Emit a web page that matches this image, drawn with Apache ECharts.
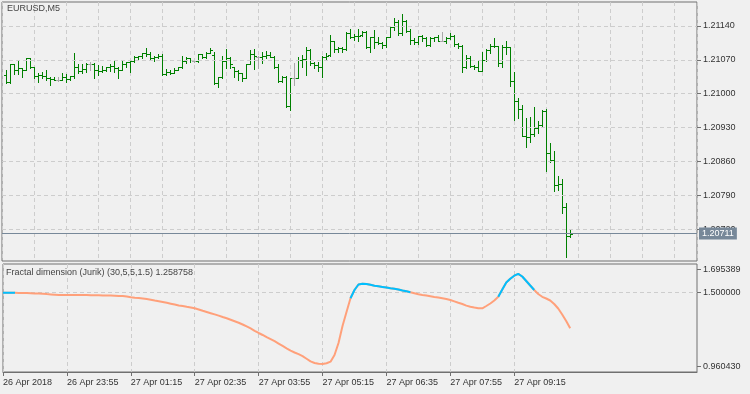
<!DOCTYPE html>
<html><head><meta charset="utf-8">
<script src="https://cdn.jsdelivr.net/npm/echarts@6/dist/echarts.min.js"></script>
<style>html,body{margin:0;padding:0;background:#f0f0f0}#c{width:750px;height:394px}</style>
</head><body><div id="c"></div>
<script>
const symbolTitle = 'EURUSD,M5';
const indicatorTitle = 'Fractal dimension (Jurik) (30,5,5,1.5) 1.258758';
const timeTickIndex = [0,16,32,48,64,80,96,112,128];
const timeTickLabels = ['26 Apr 2018','26 Apr 23:55','27 Apr 01:15','27 Apr 02:35','27 Apr 03:55','27 Apr 05:15','27 Apr 06:35','27 Apr 07:55','27 Apr 09:15'];
const priceTicks = [1.2072,1.2079,1.2086,1.2093,1.2100,1.2107,1.2114];
const priceMin = 1.206542, priceMax = 1.211896;
const lastPrice = 1.20711;
const indicatorMin = 0.960430, indicatorMax = 1.695389, indicatorLevel = 1.5;
const indicatorTickLabels = ['1.695389','1.500000','0.960430'];
const firstBarIndex = 1;

const opens = [
1.21039,1.21024,1.21062,1.21049,1.21053,1.21049,1.21074,1.21055,1.21037,1.21039,
1.21037,1.21033,1.21031,1.21029,1.21029,1.21035,1.21031,1.21036,1.21055,1.21047,
1.21051,1.21061,1.21061,1.21049,1.21047,1.21049,1.21055,1.21057,1.21053,1.21049,
1.21062,1.21066,1.21068,1.21076,1.21078,1.21084,1.21082,1.21074,1.21076,1.21078,
1.21041,1.21045,1.21043,1.21049,1.21055,1.21068,1.21074,1.21068,1.21068,1.21082,
1.21076,1.21084,1.21080,1.21022,1.21035,1.21068,1.21074,1.21055,1.21047,1.21043,
1.21033,1.21061,1.21082,1.21076,1.21076,1.21078,1.21080,1.21076,1.21055,1.21026,
1.21035,1.20975,1.21033,1.21033,1.21070,1.21072,1.21091,1.21064,1.21059,1.21055,
1.21076,1.21080,1.21109,1.21093,1.21095,1.21092,1.21126,1.21117,1.21119,1.21121,
1.21128,1.21097,1.21117,1.21107,1.21104,1.21101,1.21117,1.21138,1.21148,1.21126,
1.21151,1.21130,1.21111,1.21107,1.21120,1.21115,1.21101,1.21115,1.21117,1.21109,
1.21109,1.21115,1.21120,1.21103,1.21099,1.21055,1.21074,1.21057,1.21055,1.21047,
1.21070,1.21091,1.21099,1.21098,1.21064,1.21097,1.21096,1.21026,1.20985,1.20968,
1.20913,1.20910,1.20917,1.20929,1.20935,1.20964,1.20878,1.20864,1.20812,1.20813,
1.20765,1.20706];
const highs = [
1.21049,1.21062,1.21062,1.21068,1.21053,1.21074,1.21074,1.21055,1.21043,1.21045,
1.21049,1.21035,1.21035,1.21034,1.21043,1.21041,1.21037,1.21085,1.21062,1.21062,
1.21064,1.21066,1.21064,1.21059,1.21058,1.21056,1.21062,1.21070,1.21056,1.21068,
1.21066,1.21070,1.21077,1.21079,1.21085,1.21095,1.21086,1.21077,1.21082,1.21082,
1.21051,1.21049,1.21053,1.21056,1.21079,1.21075,1.21074,1.21070,1.21082,1.21082,
1.21087,1.21094,1.21086,1.21035,1.21078,1.21093,1.21075,1.21056,1.21049,1.21043,
1.21061,1.21091,1.21093,1.21077,1.21087,1.21088,1.21086,1.21079,1.21061,1.21037,
1.21037,1.21033,1.21063,1.21075,1.21080,1.21097,1.21093,1.21066,1.21066,1.21077,
1.21084,1.21122,1.21110,1.21096,1.21096,1.21128,1.21134,1.21123,1.21134,1.21130,
1.21130,1.21118,1.21132,1.21117,1.21107,1.21117,1.21141,1.21156,1.21153,1.21164,
1.21153,1.21133,1.21115,1.21120,1.21121,1.21117,1.21117,1.21118,1.21122,1.21128,
1.21117,1.21125,1.21122,1.21104,1.21100,1.21080,1.21077,1.21059,1.21070,1.21087,
1.21092,1.21103,1.21115,1.21099,1.21101,1.21109,1.21097,1.21044,1.20991,1.20977,
1.20949,1.20951,1.20972,1.20944,1.20966,1.20968,1.20899,1.20882,1.20830,1.20823,
1.20774,1.20718];
const lows = [
1.21022,1.21022,1.21041,1.21041,1.21035,1.21049,1.21053,1.21033,1.21024,1.21033,
1.21028,1.21018,1.21028,1.21027,1.21028,1.21024,1.21029,1.21033,1.21043,1.21043,
1.21045,1.21049,1.21033,1.21039,1.21044,1.21047,1.21047,1.21045,1.21032,1.21049,
1.21056,1.21044,1.21065,1.21070,1.21073,1.21079,1.21071,1.21068,1.21073,1.21039,
1.21039,1.21040,1.21042,1.21048,1.21054,1.21064,1.21066,1.21066,1.21066,1.21073,
1.21073,1.21084,1.21020,1.21013,1.21033,1.21053,1.21053,1.21035,1.21028,1.21026,
1.21032,1.21061,1.21051,1.21053,1.21063,1.21073,1.21075,1.21054,1.21025,1.21025,
1.20973,1.20966,1.21017,1.21032,1.21056,1.21039,1.21059,1.21054,1.21046,1.21035,
1.21072,1.21077,1.21087,1.21086,1.21087,1.21091,1.21115,1.21111,1.21108,1.21120,
1.21095,1.21087,1.21095,1.21102,1.21095,1.21097,1.21117,1.21132,1.21122,1.21122,
1.21128,1.21102,1.21102,1.21102,1.21109,1.21099,1.21099,1.21109,1.21108,1.21108,
1.21104,1.21113,1.21099,1.21095,1.21044,1.21054,1.21056,1.21051,1.21046,1.21046,
1.21068,1.21085,1.21096,1.21057,1.21056,1.21082,1.21016,1.20946,1.20949,1.20913,
1.20889,1.20901,1.20913,1.20919,1.20931,1.20841,1.20859,1.20799,1.20801,1.20754,
1.20663,1.20704];
const closes = [
1.21024,1.21062,1.21049,1.21053,1.21049,1.21074,1.21055,1.21037,1.21039,1.21037,
1.21033,1.21031,1.21029,1.21029,1.21035,1.21031,1.21036,1.21055,1.21047,1.21051,
1.21061,1.21061,1.21049,1.21047,1.21049,1.21055,1.21057,1.21053,1.21049,1.21062,
1.21066,1.21068,1.21076,1.21078,1.21084,1.21082,1.21074,1.21076,1.21078,1.21041,
1.21045,1.21043,1.21049,1.21055,1.21068,1.21074,1.21070,1.21068,1.21082,1.21076,
1.21084,1.21091,1.21022,1.21035,1.21068,1.21074,1.21062,1.21047,1.21043,1.21033,
1.21061,1.21082,1.21078,1.21076,1.21078,1.21080,1.21076,1.21055,1.21026,1.21035,
1.20975,1.21033,1.21033,1.21070,1.21072,1.21091,1.21064,1.21059,1.21055,1.21076,
1.21078,1.21109,1.21093,1.21095,1.21092,1.21126,1.21117,1.21119,1.21120,1.21128,
1.21097,1.21117,1.21107,1.21105,1.21101,1.21117,1.21138,1.21148,1.21126,1.21151,
1.21130,1.21111,1.21107,1.21120,1.21115,1.21101,1.21115,1.21117,1.21109,1.21109,
1.21115,1.21120,1.21103,1.21099,1.21055,1.21074,1.21057,1.21055,1.21047,1.21070,
1.21091,1.21099,1.21098,1.21064,1.21097,1.21096,1.21026,1.20985,1.20968,1.20913,
1.20910,1.20917,1.20929,1.20935,1.20964,1.20878,1.20864,1.20812,1.20813,1.20765,
1.20706,1.20711];

const fdValues = [
1.5001,1.5001,1.5001,1.4994,1.4987,1.4980,1.4974,1.4967,1.4953,1.4940,
1.4926,1.4905,1.4885,1.4865,1.4844,1.4844,1.4844,1.4843,1.4842,1.4841,
1.4840,1.4837,1.4830,1.4828,1.4824,1.4817,1.4810,1.4803,1.4796,1.4783,
1.4776,1.4735,1.4688,1.4660,1.4633,1.4606,1.4572,1.4524,1.4470,1.4422,
1.4368,1.4313,1.4252,1.4191,1.4130,1.4089,1.4041,1.3994,1.3939,1.3858,
1.3769,1.3688,1.3606,1.3524,1.3443,1.3348,1.3259,1.3157,1.3055,1.2953,
1.2838,1.2702,1.2566,1.2409,1.2259,1.2123,1.1973,1.1837,1.1701,1.1538,
1.1375,1.1211,1.1055,1.0932,1.0817,1.0681,1.0504,1.0327,1.0218,1.0164,
1.0143,1.0198,1.0307,1.0761,1.1578,1.2735,1.3688,1.4620,1.5185,1.5559,
1.5607,1.5593,1.5538,1.5477,1.5436,1.5395,1.5348,1.5300,1.5266,1.5219,
1.5151,1.5096,1.5035,1.4967,1.4899,1.4844,1.4803,1.4762,1.4715,1.4674,
1.4626,1.4572,1.4504,1.4409,1.4313,1.4232,1.4123,1.4048,1.3994,1.3946,
1.3939,1.4096,1.4266,1.4470,1.4728,1.5219,1.5695,1.5947,1.6158,1.6287,
1.6104,1.5798,1.5491,1.5185,1.4913,1.4722,1.4606,1.4470,1.4232,1.3926,
1.3517,1.3075,1.258758];
const fdBlueSegments = [[0,3],[87,102],[124,133]];

const FONT = "'Liberation Sans',Arial,sans-serif";
const FS = 9;
const textColor = '#333333';
const gridLineColor = '#cdcdcd';
const borderColor = '#707070';
const upColor = '#008000';
const dojiColor = '#a9a9a9';
const priceLineColor = '#778899';
const barsPerPixel = 0.25;
const axisMaxBars = 695 * barsPerPixel;

const barData = opens.map((o, i) => [firstBarIndex + i, o, highs[i], lows[i], closes[i]]);
const closeData = closes.map((c, i) => [firstBarIndex + i, c]);
const fdData = fdValues.map((v, i) => [i, v]);
const fdBlueData = fdValues.map((v, i) => fdBlueSegments.some(s => i >= s[0] && i <= s[1]) ? [i, v] : [i, '-']);

const indUnitPerPx = (indicatorMax - indicatorMin) / 108;
const indTickValues = [indicatorMax - 5.7 * indUnitPerPx, indicatorLevel, indicatorMin + 5.7 * indUnitPerPx];

function renderBar(params, api) {
  const k = api.value(0), o = api.value(1), h = api.value(2), l = api.value(3), c = api.value(4);
  const pH = api.coord([k, h]), pL = api.coord([k, l]), pO = api.coord([k, o]), pC = api.coord([k, c]);
  const x = Math.round(pH[0]) + 0.5;
  const color = o === c ? dojiColor : upColor;
  const style = {stroke: color, lineWidth: 1, fill: null};
  const yo = Math.round(pO[1]) + 0.5, yc = Math.round(pC[1]) + 0.5;
  return {type: 'group', children: [
    {type: 'line', shape: {x1: x, y1: Math.round(pH[1]), x2: x, y2: Math.round(pL[1]) + 1}, style: style},
    {type: 'line', shape: {x1: x - 2.5, y1: yo, x2: x - 0.5, y2: yo}, style: style},
    {type: 'line', shape: {x1: x + 0.5, y1: yc, x2: x + 2.5, y2: yc}, style: style}
  ]};
}

const chart = echarts.init(document.getElementById('c'));
const axisFont = {fontFamily: FONT, fontSize: FS, color: textColor};
const dashed = {color: gridLineColor, type: [4, 3], width: 1};
chart.setOption({
  animation: false,
  backgroundColor: '#f0f0f0',
  title: [
    {text: symbolTitle, left: 7, top: 4, padding: 0, textStyle: {fontFamily: FONT, fontSize: FS, fontWeight: 'normal', color: '#444444'}},
    {text: indicatorTitle, left: 6, top: 268, padding: 0, textStyle: {fontFamily: FONT, fontSize: FS, fontWeight: 'normal', color: '#444444'}}
  ],
  grid: [
    {left: 2, top: 2, width: 695, height: 259, show: true, borderColor: borderColor, borderWidth: 1, backgroundColor: 'transparent'},
    {left: 2, top: 264, width: 695, height: 108, show: true, borderColor: borderColor, borderWidth: 1, backgroundColor: 'transparent'}
  ],
  xAxis: [
    {type: 'value', gridIndex: 0, min: 0, max: axisMaxBars, interval: 8,
     axisLine: {show: false, onZero: false}, axisTick: {show: false}, axisLabel: {show: false},
     splitLine: {show: true, lineStyle: dashed}},
    {type: 'value', gridIndex: 1, min: 0, max: axisMaxBars, interval: 8,
     axisLine: {show: true, onZero: false, lineStyle: {color: borderColor}},
     axisTick: {show: true, length: 4, customValues: timeTickIndex, lineStyle: {color: borderColor}},
     axisLabel: Object.assign({show: true, customValues: timeTickIndex, align: 'left', margin: 6, hideOverlap: false,
       formatter: v => timeTickLabels[timeTickIndex.indexOf(v)] || ''}, axisFont),
     splitLine: {show: true, lineStyle: dashed}}
  ],
  yAxis: [
    {type: 'value', gridIndex: 0, position: 'right', min: priceMin, max: priceMax, scale: true,
     axisLine: {show: false, onZero: false},
     axisTick: {show: true, length: 4, customValues: priceTicks, lineStyle: {color: borderColor}},
     axisLabel: Object.assign({show: true, customValues: priceTicks, margin: 6, hideOverlap: false,
       formatter: v => v.toFixed(5)}, axisFont),
     splitLine: {show: false}},
    {type: 'value', gridIndex: 1, position: 'right', min: indicatorMin, max: indicatorMax, scale: true,
     axisLine: {show: false, onZero: false},
     axisTick: {show: true, length: 4, customValues: indTickValues, lineStyle: {color: borderColor}},
     axisLabel: Object.assign({show: true, customValues: indTickValues, margin: 6, hideOverlap: false,
       formatter: v => indicatorTickLabels[indTickValues.indexOf(v)] || ''}, axisFont),
     splitLine: {show: false}}
  ],
  series: [
    {type: 'line', name: 'close', xAxisIndex: 0, yAxisIndex: 0, data: closeData, silent: true, z: 1,
     showSymbol: false, symbol: 'none', lineStyle: {opacity: 0, width: 0}, itemStyle: {opacity: 0},
     markLine: {silent: true, symbol: ['none', 'none'], animation: false, precision: 5,
       data: priceTicks.map(v => ({yAxis: v, lineStyle: dashed, label: {show: false}})).concat([
         {yAxis: lastPrice, lineStyle: {color: priceLineColor, type: 'solid', width: 1},
          label: {show: true, position: 'end', distance: 2, formatter: lastPrice.toFixed(5), color: '#ffffff',
            backgroundColor: priceLineColor, padding: [2, 3, 1, 3], fontFamily: FONT, fontSize: FS}}])}},
    {type: 'custom', name: 'EURUSD', xAxisIndex: 0, yAxisIndex: 0, renderItem: renderBar,
     data: barData, encode: {x: 0, y: [1, 2, 3, 4]}, clip: true, z: 3},
    {type: 'line', name: 'FD', xAxisIndex: 1, yAxisIndex: 1, data: fdData, showSymbol: false, z: 3,
     lineStyle: {color: '#ffa07a', width: 2}, itemStyle: {color: '#ffa07a'},
     markLine: {silent: true, symbol: ['none', 'none'], animation: false, z: 1,
       lineStyle: dashed, label: {show: false}, data: [{yAxis: indicatorLevel}]}},
    {type: 'line', name: 'FD up', xAxisIndex: 1, yAxisIndex: 1, data: fdBlueData, showSymbol: false, z: 4,
     connectNulls: false, lineStyle: {color: '#00bfff', width: 2}, itemStyle: {color: '#00bfff'}}
  ]
});
</script>
</body></html>
